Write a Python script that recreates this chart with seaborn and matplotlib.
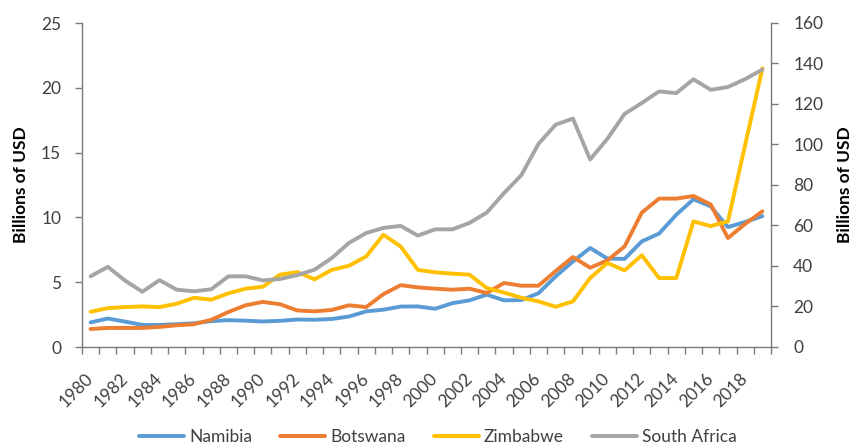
import matplotlib
matplotlib.use('Agg')
import matplotlib.pyplot as plt
import seaborn as sns
import pandas as pd
from matplotlib.lines import Line2D

# GDP, billions of USD
years = list(range(1980, 2020))
namibia = [1.9, 2.2, 1.96, 1.7, 1.7, 1.76, 1.83, 2.0, 2.07, 2.03,
           1.97, 2.02, 2.12, 2.1, 2.16, 2.35, 2.75, 2.88, 3.12, 3.13,
           2.95, 3.38, 3.6, 4.04, 3.6, 3.62, 4.15, 5.45, 6.6, 7.64,
           6.82, 6.8, 8.15, 8.75, 10.2, 11.4, 10.85, 9.25, 9.65, 10.1]
botswana = [1.39, 1.47, 1.47, 1.47, 1.55, 1.68, 1.76, 2.1, 2.7, 3.22,
            3.48, 3.3, 2.82, 2.75, 2.86, 3.22, 3.08, 4.08, 4.77, 4.6,
            4.5, 4.42, 4.5, 4.17, 4.94, 4.73, 4.73, 5.86, 6.94, 6.12,
            6.68, 7.76, 10.37, 11.45, 11.45, 11.65, 11.0, 8.41, 9.5, 10.47]
zimbabwe = [2.72, 3.0, 3.08, 3.13, 3.08, 3.34, 3.8, 3.65, 4.14, 4.5,
            4.65, 5.58, 5.78, 5.22, 5.95, 6.27, 6.99, 8.66, 7.76, 5.95,
            5.76, 5.66, 5.58, 4.55, 4.2, 3.8, 3.52, 3.1, 3.52, 5.32,
            6.48, 5.91, 7.08, 5.32, 5.32, 9.69, 9.33, 9.69, 15.6, 21.5]
south_africa = [34.9, 39.6, 32.8, 27.3, 33.0, 28.3, 27.5, 28.5, 34.9, 34.9,
                32.9, 33.6, 35.5, 38.2, 43.9, 51.4, 56.3, 58.8, 59.8, 55.0,
                58.1, 58.1, 61.3, 66.4, 76.0, 84.8, 100.3, 109.8, 112.8, 92.6,
                102.8, 115.1, 120.5, 126.2, 125.4, 132.2, 127.0, 128.4, 132.3, 137.0]

countries = ['Namibia', 'Botswana', 'Zimbabwe', 'South Africa']
colors = ['#5B9BD5', '#ED7D31', '#FFC000', '#A5A5A5']

left = pd.DataFrame({
    'year': years * 3,
    'gdp': namibia + botswana + zimbabwe,
    'country': ['Namibia'] * 40 + ['Botswana'] * 40 + ['Zimbabwe'] * 40,
})

sns.set_theme(style='ticks')
plt.rcParams['font.family'] = ['Lato', 'DejaVu Sans']
fs = 12.5
plt.rcParams['font.size'] = fs

axis_col = '#7a7a7a'
text_col = '#404040'
lw = 2.8

fig = plt.figure(figsize=(8.55, 4.45), dpi=100)
ax = fig.add_axes([82 / 855, 1 - 347 / 445, 689 / 855, 324 / 445])
ax2 = ax.twinx()

sns.lineplot(data=left, x='year', y='gdp', hue='country',
             palette=dict(zip(countries[:3], colors[:3])), ax=ax,
             legend=False, linewidth=lw,
             solid_capstyle='round', solid_joinstyle='round')
sns.lineplot(x=years, y=south_africa, ax=ax2, color=colors[3],
             linewidth=lw, solid_capstyle='round', solid_joinstyle='round')

ax.set_xlim(1979.5, 2019.5)
ax.set_ylim(0, 25)
ax2.set_ylim(0, 160)
ax.set_yticks([0, 5, 10, 15, 20, 25])
ax2.set_yticks(range(0, 161, 20))

# category boundaries carry tick marks, even years carry labels
ax.set_xticks([y - 0.5 for y in years] + [2019.5])
ax.set_xticklabels([])
ax.set_xticks(years[::2], minor=True)
ax.set_xticklabels([str(y) for y in years[::2]], minor=True,
                   rotation=45, ha='right', va='center', rotation_mode='anchor')
ax.tick_params(axis='x', which='major', length=5, width=1, color=axis_col,
               direction='out')
ax.tick_params(axis='x', which='minor', length=0, pad=21, labelcolor=text_col,
               labelsize=fs)
ax.tick_params(axis='y', length=5, width=1, color=axis_col, pad=10,
               labelcolor=text_col, labelsize=fs)
ax2.tick_params(axis='y', length=5, width=1, color=axis_col, pad=11,
                labelcolor=text_col, labelsize=fs)

for a in (ax, ax2):
    a.spines['top'].set_visible(False)
    for s in a.spines.values():
        s.set_color(axis_col)
        s.set_linewidth(1)
ax.spines['right'].set_visible(False)
ax2.spines['left'].set_visible(False)
ax2.spines['bottom'].set_visible(False)

ax.set_xlabel('')
ax.set_ylabel('Billions of USD', fontweight='bold', fontsize=fs, color='black')
ax2.set_ylabel('Billions of USD', fontweight='bold', fontsize=fs, color='black',
               rotation=90)
ax.yaxis.set_label_coords((29 - 82) / 689, 0.5)
ax2.yaxis.set_label_coords((837 - 82) / 689, 0.5)

handles = [Line2D([0], [0], color=c, linewidth=lw) for c in colors]
fig.legend(handles, countries, loc='center', bbox_to_anchor=(438 / 855, 0.018),
           ncol=4, frameon=False, fontsize=fs, handlelength=2.6,
           handletextpad=0.3, columnspacing=1.6, labelcolor=text_col)

fig.savefig('out.png', dpi=100)
